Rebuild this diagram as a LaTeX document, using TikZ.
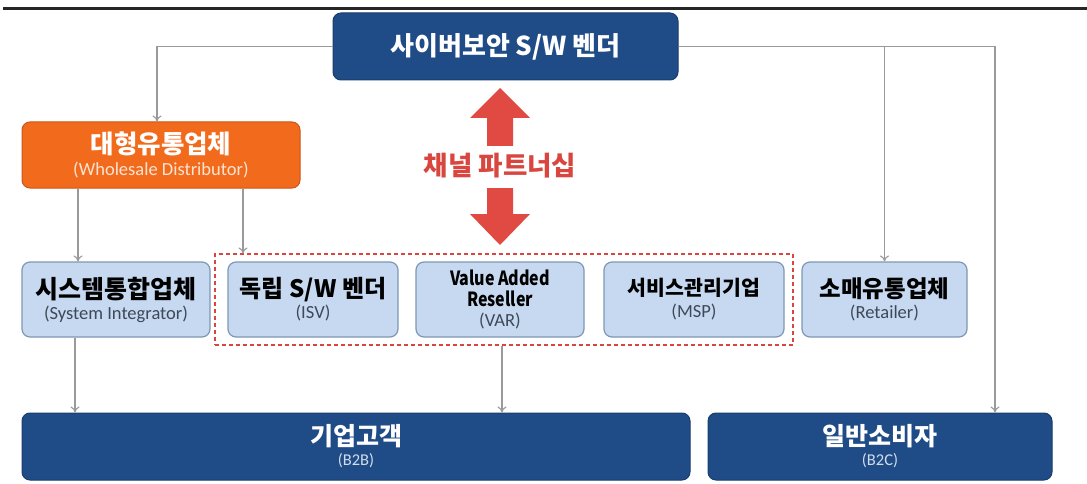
\documentclass[tikz,border=0pt]{standalone}
\usepackage{fontspec}
\setmainfont{Noto Sans CJK KR}
\newfontfamily\kr{Noto Sans CJK KR}
\newfontfamily\narrowf[FakeStretch=0.82]{Noto Sans CJK KR}
\newfontfamily\lat{Carlito}
\usetikzlibrary{arrows.meta}
\definecolor{navy}{HTML}{1F4C87}
\definecolor{lblue}{HTML}{C6D9F0}
\definecolor{lbord}{HTML}{7F97B5}
\definecolor{orng}{HTML}{F26B1D}
\definecolor{obord}{HTML}{C8561A}
\definecolor{redarr}{HTML}{E04A42}
\definecolor{redtxt}{HTML}{D9453F}
\definecolor{conn}{HTML}{9A9A9A}
\definecolor{subdark}{HTML}{3E4858}
\definecolor{sublight}{HTML}{D2DCEA}
\definecolor{suborng}{HTML}{FBE3D2}
\begin{document}
\begin{tikzpicture}[x=1pt,y=-1pt,
  darkbox/.style={draw=navy!80!black,line width=1pt,fill=navy,rounded corners=8pt,text=white,align=center,inner sep=0pt,font=\fontsize{10}{20}\selectfont},
  lightbox/.style={draw=lbord,line width=1.2pt,fill=lblue,rounded corners=8pt,align=center,inner sep=0pt,minimum height=75pt,font=\fontsize{10}{21}\selectfont},
  orangebox/.style={draw=obord,line width=1pt,fill=orng,rounded corners=8pt,text=white,align=center,inner sep=0pt,font=\fontsize{10}{22}\selectfont},
  conn/.style={draw=conn,line width=1.1pt,-{To[length=6pt,width=9pt]}}]
\useasboundingbox (0,0) rectangle (1087,484);
\fill[white] (0,0) rectangle (1087,484);
% top rule
\draw[line width=3pt,black!85] (3,9) -- (1087,9);

\node[darkbox,minimum width=345pt,minimum height=67pt] (top) at (505.5,46.5)
  {\kr\bfseries\fontsize{26}{30}\selectfont 사이버보안 S/W 벤더};
\node[orangebox,minimum width=278pt,minimum height=66pt] (dist) at (161,155)
  {{\kr\bfseries\fontsize{25.5}{30}\selectfont 대형유통업체}\\{\lat\color{suborng}\fontsize{18.5}{22}\selectfont (Wholesale Distributor)}};

\node[draw=redtxt,line width=1.1pt,dash pattern=on 4pt off 3pt,minimum width=578pt,minimum height=91pt,inner sep=0pt] (grp) at (504,299.5) {};

\node[lightbox,minimum width=188pt] (si) at (116,299.5)
  {{\kr\bfseries\fontsize{25}{30}\selectfont 시스템통합업체}\\{\lat\color{subdark}\fontsize{18.5}{22}\selectfont (System Integrator)}};
\node[lightbox,minimum width=170pt] (isv) at (313,299.5)
  {{\kr\bfseries\fontsize{24}{30}\selectfont 독립 S/W 벤더}\\{\lat\color{subdark}\fontsize{18.5}{22}\selectfont (ISV)}};
\node[lightbox,minimum width=168pt,font=\fontsize{10}{20.5}\selectfont] (var) at (500,299.5)
  {{\narrowf\bfseries\fontsize{19.5}{22}\selectfont Value Added}\\{\narrowf\bfseries\fontsize{19.5}{22}\selectfont Reseller}\\{\lat\color{subdark}\fontsize{18.5}{22}\selectfont (VAR)}};
\node[lightbox,minimum width=180pt,font=\fontsize{10}{22}\selectfont] (msp) at (694,299.5)
  {{\kr\bfseries\fontsize{20.5}{24}\selectfont 서비스관리기업}\\{\lat\color{subdark}\fontsize{18.5}{22}\selectfont (MSP)}};
\node[lightbox,minimum width=165pt] (ret) at (884.5,299.5)
  {{\kr\bfseries\fontsize{23.5}{28}\selectfont 소매유통업체}\\{\lat\color{subdark}\fontsize{18.5}{22}\selectfont (Retailer)}};

\node[darkbox,minimum width=668pt,minimum height=67pt] (b2b) at (356,446.5)
  {{\kr\bfseries\fontsize{25}{30}\selectfont 기업고객}\\{\lat\color{sublight}\fontsize{16.5}{19}\selectfont (B2B)}};
\node[darkbox,minimum width=344pt,minimum height=67pt] (b2c) at (880,446.5)
  {{\kr\bfseries\fontsize{25}{30}\selectfont 일반소비자}\\{\lat\color{sublight}\fontsize{16.5}{19}\selectfont (B2C)}};

% red partnership arrows
\fill[redarr] (500,88) -- (530,118) -- (513,118) -- (513,146) -- (487,146) -- (487,118) -- (470,118) -- cycle;
\fill[redarr] (500,245) -- (530,214) -- (513,214) -- (513,188) -- (487,188) -- (487,214) -- (470,214) -- cycle;
\node[text=redtxt,font=\kr\bfseries\fontsize{26.5}{30}\selectfont] (cp) at (500,166) {채널 파트너십};

% connectors
\coordinate (x157) at (157,0);
\coordinate (x995) at (995,0);
\coordinate (x78) at (78,0);
\coordinate (x243) at (243,0);
\coordinate (x75) at (75,0);
\coordinate (x502) at (502,0);
\draw[conn] (top.west) -| (dist.north -| x157);
\draw[conn] (top.east) -| (ret.north);
\draw[conn] (top.east) -| (b2c.north -| x995);
\draw[conn] (dist.south -| x78) -- (si.north -| x78);
\draw[conn] (dist.south -| x243) -- (grp.north -| x243);
\draw[conn] (si.south -| x75) -- (b2b.north -| x75);
\draw[conn] (grp.south -| x502) -- (b2b.north -| x502);
\end{tikzpicture}
\end{document}
